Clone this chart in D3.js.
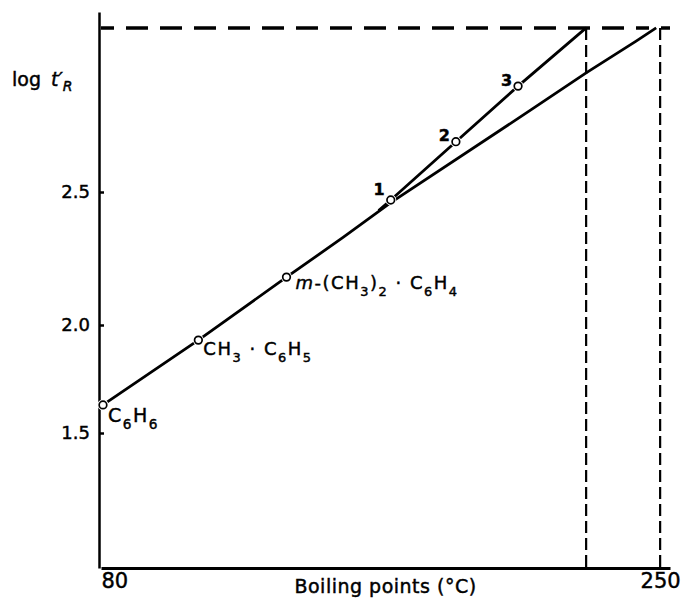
<!DOCTYPE html>
<html>
<head>
<meta charset="utf-8">
<script src="https://cdn.jsdelivr.net/npm/d3@7"></script>
<style>
body { margin: 0; background: #fff; }
text { font-family: "DejaVu Sans", sans-serif; fill: #000; stroke: #000; stroke-width: 0.45px; }
</style>
</head>
<body>
<script>
// axis ticks
var xTicks = [80, 250];
var yTicks = [1.5, 2.0, 2.5];

// main line (aromatic series)
var mainBp  = [80.6, 109.6, 136.4, 153.7, 168.1, 210.7, 227.5, 242.7, 248.8];
var mainLog = [1.63, 1.93, 2.18, 2.33, 2.46, 2.81, 2.95, 3.07, 3.12];

// steeper line through points 1-3
var upperBp  = [164.4, 168.1, 187.9, 206.8, 227.5];
var upperLog = [2.43, 2.47, 2.69, 2.90, 3.12];

// labelled compounds
var compoundNames = ["C6H6", "CH3·C6H5", "m-(CH3)2·C6H4"];
var compoundBp  = [80.6, 109.6, 136.4];
var compoundLog = [1.63, 1.93, 2.18];

// numbered points
var pointNames = ["1", "2", "3"];
var pointBp  = [168.1, 187.9, 206.8];
var pointLog = [2.47, 2.69, 2.90];

// dashed guide lines
var limitLog = 3.12;
var limitBp = [227.5, 250];

var width = 684, height = 599;

var svg = d3.select("body").append("svg")
    .attr("width", width)
    .attr("height", height);

var x = d3.scaleLinear()
    .domain([80, 253])
    .range([101, 670]);

// the scanned axis is not quite even, so the scale is piecewise
var y = d3.scaleLinear()
    .domain([0.875, 1.5, 2.0, 2.5, 3.18])
    .range([568, 433, 325, 192, 12]);

// dashed guides
svg.append("line")
    .attr("x1", x(80)).attr("x2", x(253))
    .attr("y1", y(limitLog)).attr("y2", y(limitLog))
    .attr("stroke", "#000")
    .attr("stroke-width", 3.5)
    .attr("stroke-dasharray", "13,12,22,12,22,12,22,12,22,12,22,12,22,12,22,12,22,12,22,12,22,12,22,12,22,12,22,12,22,12,22,12");

svg.selectAll(".vguide")
    .data(limitBp)
    .enter()
    .append("line")
    .attr("class", "vguide")
    .attr("x1", d => x(d)).attr("x2", d => x(d))
    .attr("y1", y(limitLog)).attr("y2", y(0.875))
    .attr("stroke", "#000")
    .attr("stroke-width", 2.2)
    .attr("stroke-dasharray", "12,5");

// axes
var yAxis = svg.append("g")
    .attr("transform", "translate(" + (x(80) - 2) + ",0)")
    .call(d3.axisLeft(y).tickValues(yTicks).tickSizeInner(-5).tickSizeOuter(0)
        .tickPadding(9).tickFormat(d3.format(".1f")));
yAxis.select(".domain").attr("stroke-width", 2.5);
yAxis.selectAll(".tick line").attr("stroke-width", 2.5);
yAxis.selectAll("text")
    .style("font-size", "18px")
    .style("font-family", "DejaVu Sans");

var xAxis = svg.append("g")
    .attr("transform", "translate(0," + y(0.875) + ")")
    .call(d3.axisBottom(x).tickValues(xTicks).tickSize(0).tickFormat(d3.format("d")));
xAxis.select(".domain").attr("stroke-width", 2.8);
xAxis.selectAll("text")
    .attr("y", 20)
    .attr("dy", 0)
    .style("font-size", "21px")
    .style("font-family", "DejaVu Sans")
    .attr("text-anchor", (d, i) => i === 0 ? "start" : "middle");

// axis titles
var yTitle = svg.append("text")
    .attr("x", 12)
    .attr("y", 86)
    .style("font-size", "19px");
yTitle.append("tspan").text("log ");
yTitle.append("tspan").attr("dx", 4).style("font-style", "italic").text("t′");
yTitle.append("tspan").attr("dy", 5).style("font-size", "14px").style("font-style", "italic").text("R");

svg.append("text")
    .attr("x", (x.range()[0] + x.range()[1]) / 2)
    .attr("y", 593)
    .attr("text-anchor", "middle")
    .style("font-size", "19px")
    .style("letter-spacing", "0.5px")
    .text("Boiling points (°C)");

// lines
var line = d3.line()
    .x(d => x(d[0]))
    .y(d => y(d[1]));

svg.append("path")
    .datum(d3.zip(mainBp, mainLog))
    .attr("d", line)
    .attr("fill", "none")
    .attr("stroke", "#000")
    .attr("stroke-width", 2.8);

svg.append("path")
    .datum(d3.zip(upperBp, upperLog))
    .attr("d", line)
    .attr("fill", "none")
    .attr("stroke", "#000")
    .attr("stroke-width", 2.8);

// points
var allBp = compoundBp.concat(pointBp);
var allLog = compoundLog.concat(pointLog);
var pts = d3.zip(allBp, allLog);

svg.selectAll(".halo")
    .data(pts)
    .enter()
    .append("circle")
    .attr("class", "halo")
    .attr("cx", d => x(d[0]))
    .attr("cy", d => y(d[1]))
    .attr("r", 5.5)
    .attr("fill", "#fff");

svg.selectAll(".pt")
    .data(pts)
    .enter()
    .append("circle")
    .attr("class", "pt")
    .attr("cx", d => x(d[0]))
    .attr("cy", d => y(d[1]))
    .attr("r", 3.8)
    .attr("fill", "#fff")
    .attr("stroke", "#000")
    .attr("stroke-width", 1.7);

// compound labels: digits are subscripts, a leading "m" is italic
var labelOffsets = [[5, 17, 19], [5, 15, 18], [9, 12, 18]];

function chem(sel, name, size) {
    var low = false;
    for (var i = 0; i < name.length; i++) {
        var c = name[i];
        var isDigit = /[0-9]/.test(c);
        var t = sel.append("tspan").text(c === "·" ? " · " : c);
        if (isDigit && !low) { t.attr("dy", size * 0.38); low = true; }
        else if (!isDigit && low) { t.attr("dy", -size * 0.38); low = false; }
        if (isDigit) t.style("font-size", (size * 0.72) + "px");
        if (c === "m" && i === 0) t.style("font-style", "italic");
    }
}

compoundNames.forEach(function(name, i) {
    var o = labelOffsets[i];
    var t = svg.append("text")
        .attr("x", x(compoundBp[i]) + o[0])
        .attr("y", y(compoundLog[i]) + o[1])
        .style("font-size", o[2] + "px")
        .style("letter-spacing", "1.5px");
    chem(t, name, o[2]);
});

var numOffsets = [[-6, -5], [-6, -1], [-6, 0]];
svg.selectAll(".num")
    .data(pointNames)
    .enter()
    .append("text")
    .attr("class", "num")
    .attr("x", (d, i) => x(pointBp[i]) + numOffsets[i][0])
    .attr("y", (d, i) => y(pointLog[i]) + numOffsets[i][1])
    .attr("text-anchor", "end")
    .style("font-size", "16px")
    .style("font-weight", "bold")
    .text(d => d);
</script>
</body>
</html>
